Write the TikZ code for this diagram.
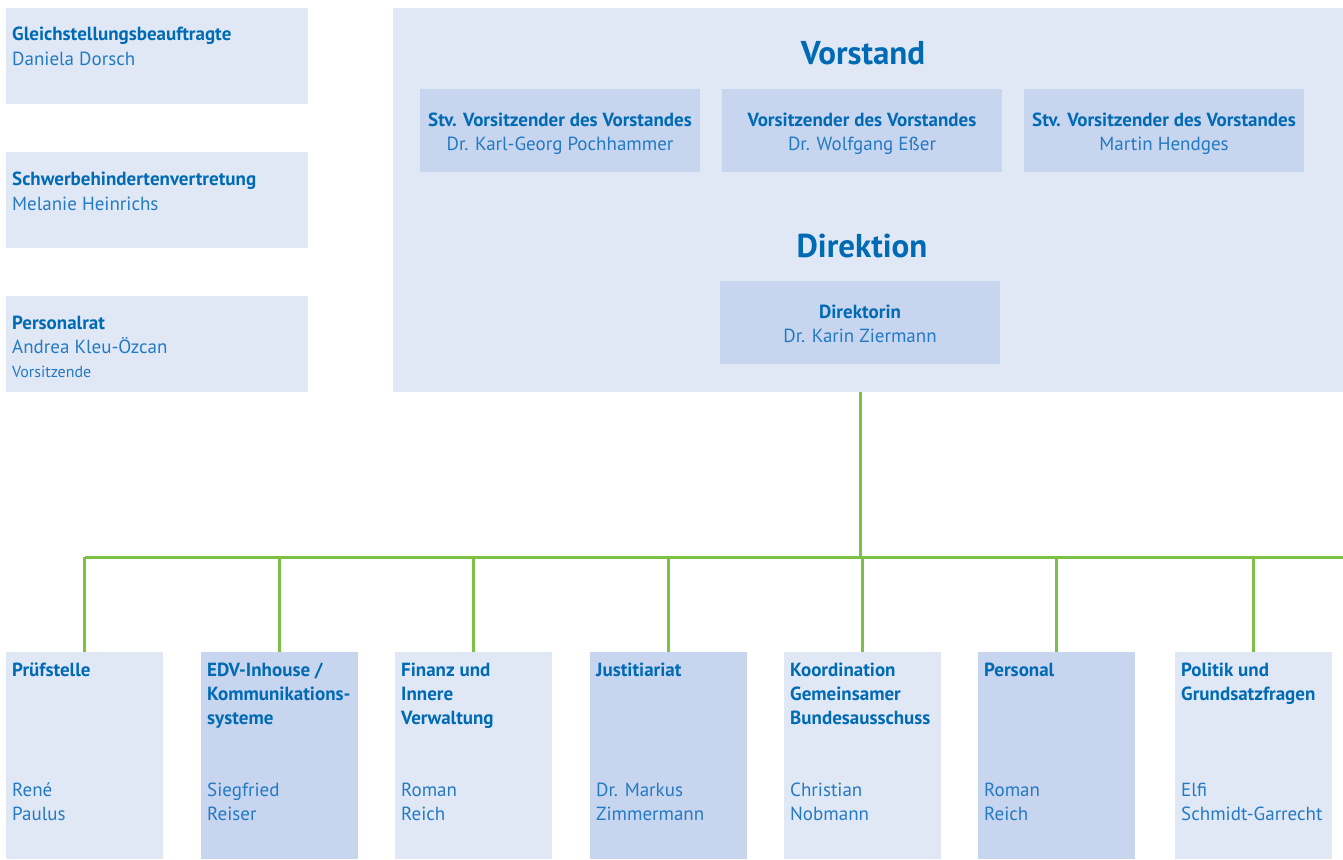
\documentclass[tikz,border=0pt]{standalone}
\usepackage{fontspec}
\setmainfont{PT Sans}
\usepackage{xcolor}
\usepackage{tikz}

\definecolor{BoxLight}{RGB}{225,232,245}
\definecolor{BoxDark}{RGB}{199,213,238}
\definecolor{HeadBlue}{RGB}{0,106,180}
\definecolor{NameBlue}{RGB}{35,122,196}
\definecolor{LineGreen}{RGB}{124,193,67}

\begin{document}
\begin{tikzpicture}[x=1pt, y=-1pt,
    lightbox/.style={fill=BoxLight, anchor=north west, inner sep=0, outer sep=0},
    darkbox/.style={fill=BoxDark, anchor=north west, inner sep=0, outer sep=0},
    headtext/.style={text=HeadBlue, inner sep=0, font=\bfseries\fontsize{19}{24}\selectfont},
    persontext/.style={text=NameBlue, inner sep=0, font=\fontsize{19}{24}\selectfont},
    bigtitle/.style={text=HeadBlue, inner sep=0, font=\bfseries\fontsize{33}{36}\selectfont},
    branch/.style={draw=LineGreen, line width=3pt}]
    \useasboundingbox (0,0) rectangle (1343,859);

    %Left column
    \node[lightbox, minimum width=302, minimum height=96] (gleich) at (6,8) {};
    \node[lightbox, minimum width=302, minimum height=96] (schwer) at (6,152) {};
    \node[lightbox, minimum width=302, minimum height=96] (prat) at (6,296) {};

    \node[headtext, anchor=base west] (gleichH) at ([shift={(6,33)}]gleich.north west) {Gleichstellungsbeauftragte};
    \node[persontext, anchor=base west] (gleichN) at ([shift={(6,58)}]gleich.north west) {Daniela Dorsch};
    \node[headtext, anchor=base west] (schwerH) at ([shift={(6,33)}]schwer.north west) {Schwerbehindertenvertretung};
    \node[persontext, anchor=base west] (schwerN) at ([shift={(6,58)}]schwer.north west) {Melanie Heinrichs};
    \node[headtext, anchor=base west] (pratH) at ([shift={(6,33)}]prat.north west) {Personalrat};
    \node[persontext, anchor=base west] (pratN) at ([shift={(6,57)}]prat.north west) {Andrea Kleu-Özcan};
    \node[persontext, anchor=base west, font=\fontsize{16}{18}\selectfont] (pratV) at ([shift={(6,81)}]prat.north west) {Vorsitzende};

    %Vorstand and Direktion
    \node[lightbox, minimum width=950, minimum height=384] (board) at (393,8) {};
    \node[bigtitle, anchor=base] (vorstand) at (863,65) {Vorstand};
    \node[bigtitle, anchor=base] (direktion) at (862,257) {Direktion};

    \node[darkbox, minimum width=280, minimum height=83] (stvA) at (420,89) {};
    \node[darkbox, minimum width=280, minimum height=83] (vors) at (722,89) {};
    \node[darkbox, minimum width=280, minimum height=83] (stvB) at (1024,89) {};
    \node[darkbox, minimum width=280, minimum height=83] (dirin) at (720,281) {};

    \node[headtext, anchor=base] (stvAH) at ([shift={(0,37)}]stvA.north) {Stv. Vorsitzender des Vorstandes};
    \node[persontext, anchor=base] (stvAN) at ([shift={(0,61)}]stvA.north) {Dr. Karl-Georg Pochhammer};
    \node[headtext, anchor=base] (vorsH) at ([shift={(0,37)}]vors.north) {Vorsitzender des Vorstandes};
    \node[persontext, anchor=base] (vorsN) at ([shift={(0,61)}]vors.north) {Dr. Wolfgang Eßer};
    \node[headtext, anchor=base] (stvBH) at ([shift={(0,37)}]stvB.north) {Stv. Vorsitzender des Vorstandes};
    \node[persontext, anchor=base] (stvBN) at ([shift={(0,61)}]stvB.north) {Martin Hendges};
    \node[headtext, anchor=base] (dirinH) at ([shift={(0,37)}]dirin.north) {Direktorin};
    \node[persontext, anchor=base] (dirinN) at ([shift={(0,61)}]dirin.north) {Dr. Karin Ziermann};

    %Departments (base anchor sits on the last line)
    \node[lightbox, minimum width=157, minimum height=207] (pruef) at (6,652) {};
    \node[darkbox, minimum width=157, minimum height=207] (edv) at (201,652) {};
    \node[lightbox, minimum width=157, minimum height=207] (finanz) at (395,652) {};
    \node[darkbox, minimum width=157, minimum height=207] (justiz) at (590,652) {};
    \node[lightbox, minimum width=157, minimum height=207] (koord) at (784,652) {};
    \node[darkbox, minimum width=157, minimum height=207] (personal) at (978,652) {};
    \node[lightbox, minimum width=157, minimum height=207] (politik) at (1175,652) {};

    \node[headtext, anchor=base west, align=left] (pruefH) at ([shift={(6,24)}]pruef.north west) {Prüfstelle};
    \node[persontext, anchor=base west, align=left] (pruefN) at ([shift={(6,168)}]pruef.north west) {René\\Paulus};
    \node[headtext, anchor=base west, align=left] (edvH) at ([shift={(6,72)}]edv.north west) {EDV-Inhouse /\\Kommunikations-\\systeme};
    \node[persontext, anchor=base west, align=left] (edvN) at ([shift={(6,168)}]edv.north west) {Siegfried\\Reiser};
    \node[headtext, anchor=base west, align=left] (finanzH) at ([shift={(6,72)}]finanz.north west) {Finanz und\\Innere\\Verwaltung};
    \node[persontext, anchor=base west, align=left] (finanzN) at ([shift={(6,168)}]finanz.north west) {Roman\\Reich};
    \node[headtext, anchor=base west, align=left] (justizH) at ([shift={(6,24)}]justiz.north west) {Justitiariat};
    \node[persontext, anchor=base west, align=left] (justizN) at ([shift={(6,168)}]justiz.north west) {Dr. Markus\\Zimmermann};
    \node[headtext, anchor=base west, align=left] (koordH) at ([shift={(6,72)}]koord.north west) {Koordination\\Gemeinsamer\\Bundesausschuss};
    \node[persontext, anchor=base west, align=left] (koordN) at ([shift={(6,168)}]koord.north west) {Christian\\Nobmann};
    \node[headtext, anchor=base west, align=left] (personalH) at ([shift={(6,24)}]personal.north west) {Personal};
    \node[persontext, anchor=base west, align=left] (personalN) at ([shift={(6,168)}]personal.north west) {Roman\\Reich};
    \node[headtext, anchor=base west, align=left] (politikH) at ([shift={(6,48)}]politik.north west) {Politik und\\Grundsatzfragen};
    \node[persontext, anchor=base west, align=left] (politikN) at ([shift={(6,168)}]politik.north west) {Elfi\\Schmidt-Garrecht};

    %Connectors
    \coordinate (hub) at (862,557);
    \coordinate (busend) at (1343,557);
    \draw[branch] (dirin.south |- board.south) -- (dirin.south |- hub);
    \draw[branch] (pruef.north |- hub) -- (busend);
    \draw[branch] (pruef.north |- hub) -- (pruef.north);
    \draw[branch] (edv.north |- hub) -- (edv.north);
    \draw[branch] (finanz.north |- hub) -- (finanz.north);
    \draw[branch] (justiz.north |- hub) -- (justiz.north);
    \draw[branch] (koord.north |- hub) -- (koord.north);
    \draw[branch] (personal.north |- hub) -- (personal.north);
    \draw[branch] (politik.north |- hub) -- (politik.north);

\end{tikzpicture}
\end{document}
